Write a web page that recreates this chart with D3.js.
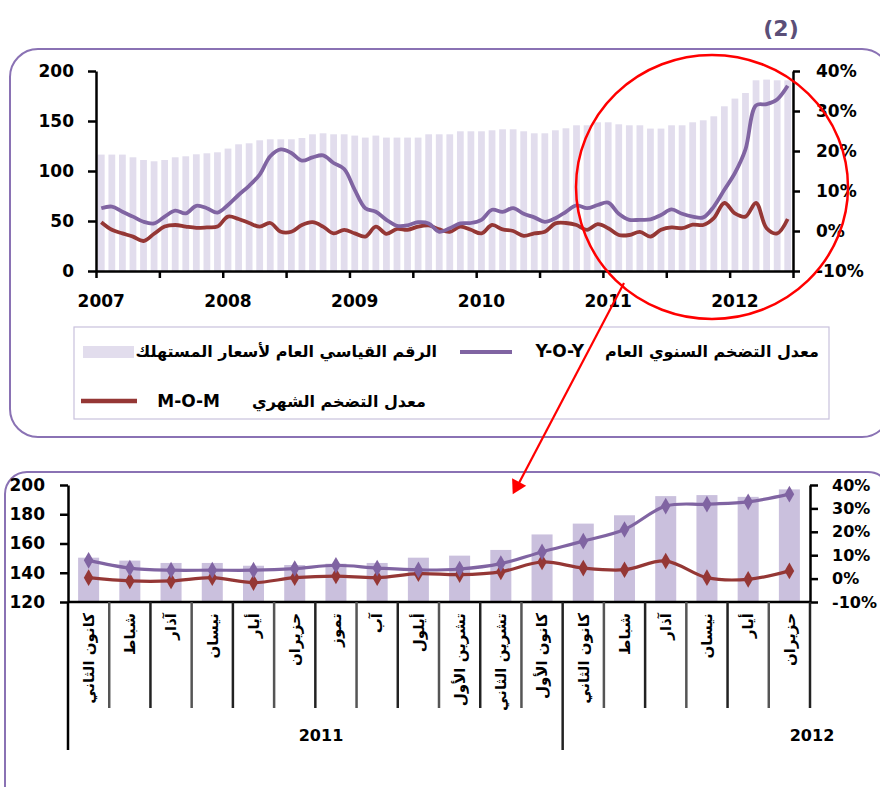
<!DOCTYPE html>
<html>
<head>
<meta charset="utf-8">
<script src="https://cdn.jsdelivr.net/npm/d3@7"></script>
<style>
  html, body { margin: 0; padding: 0; background: #fff; }
  svg { display: block; }
</style>
</head>
<body>
<svg id="fig" width="880" height="787"></svg>
<script>
'use strict';

// ---- data: top chart, monthly Jan 2007 .. Jun 2012 ----
const topYears = ['2007', '2008', '2009', '2010', '2011', '2012'];
const topCpi = [
    116.4, 116.4, 116.4, 113.7, 111.0, 109.7, 111.0, 113.7, 114.7, 116.7, 117.7, 118.7,
    122.4, 126.7, 127.7, 130.7, 131.7, 131.7, 131.7, 133.0, 136.7, 137.7, 136.7, 136.7,
    135.4, 133.4, 135.4, 133.4, 133.4, 133.4, 133.4, 136.7, 136.7, 136.7, 139.7, 139.7,
    139.7, 140.7, 141.7, 141.7, 139.7, 137.7, 137.7, 140.7, 142.7, 145.7, 145.7, 148.7,
    148.7, 146.7, 145.7, 145.7, 142.4, 142.4, 145.7, 145.7, 148.7, 150.7, 154.7, 164.7,
    172.4, 178.0, 190.7, 191.4, 190.7, 190.7
];
const topYoy = [
    5.7, 6.1, 4.8, 3.6, 2.3, 1.9, 3.6, 5.1, 4.4, 6.3, 5.7, 4.6,
    6.5, 9.0, 11.3, 14.1, 18.7, 20.4, 19.5, 17.6, 18.4, 18.9, 17.0, 15.5,
    10.3, 5.7, 4.8, 2.8, 1.3, 1.4, 2.2, 1.9, -0.2, 0.7, 1.9, 2.0,
    2.8, 5.3, 4.8, 5.7, 4.3, 3.4, 2.3, 3.2, 4.8, 6.4, 5.7, 6.5,
    7.1, 4.3, 2.8, 2.8, 2.9, 4.0, 5.4, 4.3, 3.6, 3.4, 6.1, 10.3,
    14.5, 20.4, 31.4, 31.7, 32.9, 36.3
];
const topMom = [
    2.2, 0.3, -0.6, -1.4, -2.5, -0.7, 1.1, 1.5, 1.1, 0.8, 0.9, 1.1,
    3.6, 3.0, 2.0, 1.1, 2.0, -0.2, -0.2, 1.5, 2.2, 1.1, -0.6, 0.3,
    -0.6, -1.4, 1.1, -0.7, 0.5, 0.3, 1.1, 1.4, 0.4, -0.2, 1.1, 0.3,
    -0.6, 1.5, 0.4, 0.0, -1.2, -0.6, -0.2, 1.9, 2.0, 1.5, 0.3, 1.7,
    0.7, -1.0, -1.0, -0.2, -1.4, 0.3, 0.9, 0.7, 1.6, 1.5, 3.2, 7.0,
    4.4, 3.6, 7.0, 0.7, -0.6, 3.0
];

// ---- data: bottom chart, Jan 2011 .. Jun 2012 ----
const botMonths = [
    'كانون الثاني', 'شباط', 'آذار', 'نيسان', 'أيار', 'حزيران',
    'تموز', 'آب', 'أيلول', 'تشرين الأول', 'تشرين الثاني', 'كانون الأول',
    'كانون الثاني', 'شباط', 'آذار', 'نيسان', 'أيار', 'حزيران'
];
const botYears = ['2011', '2012'];
const botCpi = [150.3, 148.3, 146.7, 146.7, 144.8, 145.3, 146.2, 146.7, 150.3,
    151.7, 155.6, 166.2, 173.6, 179.3, 192.4, 193.1, 191.9, 197.0];
const botYoy = [7.8, 4.5, 3.6, 3.6, 3.6, 4.3, 5.7, 4.5, 3.7,
    4.1, 6.4, 11.4, 16.0, 21.0, 31.0, 31.8, 32.8, 36.1];
const botMom = [0.4, -1.0, -1.0, 0.4, -1.7, 0.4, 1.1, 0.4, 2.1,
    1.7, 2.9, 7.1, 4.5, 3.8, 7.5, 0.4, -0.3, 3.3];

const leftTicksTop = [0, 50, 100, 150, 200];
const leftTicksBot = [120, 140, 160, 180, 200];
const pctTicks = [-10, 0, 10, 20, 30, 40];

const legCpi = 'الرقم القياسي العام لأسعار المستهلك';
const legYoy = 'معدل التضخم السنوي العام';
const legMom = 'معدل التضخم الشهري';

// ---- style ----
const FONT = '"DejaVu Sans", Verdana, sans-serif';
const C_BAR_TOP = '#e2dded';
const C_BAR_BOT = '#cac0dd';
const C_YOY = '#8064a2';
const C_MOM = '#953735';
const C_FRAME = '#8a72b4';

const svg = d3.select('#fig');

function styleAxis(g, size) {
    g.select('.domain').attr('stroke', '#000').attr('stroke-width', 2.5);
    g.selectAll('.tick line').attr('stroke', '#000').attr('stroke-width', 2.5);
    g.selectAll('.tick text')
        .attr('fill', '#000')
        .attr('font-family', FONT)
        .attr('font-weight', 'bold')
        .attr('font-size', size);
}

// panel frames
svg.append('rect')
    .attr('x', 10).attr('y', 49).attr('width', 880).attr('height', 388).attr('rx', 28)
    .attr('fill', 'none').attr('stroke', C_FRAME).attr('stroke-width', 2);
svg.append('rect')
    .attr('x', 5).attr('y', 472).attr('width', 885).attr('height', 340).attr('rx', 22)
    .attr('fill', 'none').attr('stroke', C_FRAME).attr('stroke-width', 2);

svg.append('text')
    .attr('x', 781).attr('y', 36).attr('text-anchor', 'middle')
    .attr('font-family', FONT).attr('font-weight', 'bold').attr('font-size', 22)
    .attr('fill', '#5b4f78')
    .text('(2)');

// =================== top chart ===================
function drawTop() {
    const x0 = 96, x1 = 793, yTop = 71, yBase = 271;
    const idx = d3.range(topCpi.length);

    const x = d3.scaleBand().domain(idx).range([x0, x1]).paddingInner(0.36).paddingOuter(0.18);
    const xi = d3.scaleLinear().domain([0, topCpi.length]).range([x0, x1]);
    const yL = d3.scaleLinear().domain([0, 200]).range([yBase, yTop]);
    const yR = d3.scaleLinear().domain([-10, 40]).range([yBase, yTop]);

    const g = svg.append('g');

    g.selectAll('.bar-top')
        .data(topCpi)
        .enter()
        .append('rect')
        .attr('class', 'bar-top')
        .attr('x', (d, i) => x(i))
        .attr('y', d => yL(d))
        .attr('width', x.bandwidth())
        .attr('height', d => yBase - yL(d))
        .attr('fill', C_BAR_TOP);

    const cx = i => x(i) + x.bandwidth() / 2;
    const line = d3.line()
        .x((d, i) => cx(i))
        .y(d => yR(d))
        .curve(d3.curveCatmullRom.alpha(0.5));

    g.append('path').datum(topMom)
        .attr('d', line).attr('fill', 'none')
        .attr('stroke', C_MOM).attr('stroke-width', 3.8).attr('stroke-linejoin', 'round');
    g.append('path').datum(topYoy)
        .attr('d', line).attr('fill', 'none')
        .attr('stroke', C_YOY).attr('stroke-width', 3.8).attr('stroke-linejoin', 'round');

    // axes
    const gl = g.append('g').attr('transform', 'translate(' + x0 + ',0)')
        .call(d3.axisLeft(yL).tickValues(leftTicksTop).tickSize(8).tickSizeOuter(0).tickPadding(14));
    styleAxis(gl, 17);

    const gr = g.append('g').attr('transform', 'translate(' + x1 + ',0)')
        .call(d3.axisRight(yR).tickValues(pctTicks).tickSize(7).tickSizeOuter(0).tickPadding(16)
            .tickFormat(d => d + '%'));
    styleAxis(gr, 17);

    const gb = g.append('g').attr('transform', 'translate(0,' + yBase + ')')
        .call(d3.axisBottom(xi).tickValues(d3.range(0, topCpi.length + 1, 6)).tickSize(7)
            .tickSizeOuter(0).tickFormat(''));
    styleAxis(gb, 17);

    // year labels under each January
    g.selectAll('.yr-top')
        .data(topYears)
        .enter()
        .append('text')
        .attr('class', 'yr-top')
        .attr('x', (d, i) => cx(i * 12))
        .attr('y', 307)
        .attr('text-anchor', 'middle')
        .attr('font-family', FONT).attr('font-weight', 'bold').attr('font-size', 17)
        .text(d => d);

    // legend
    const lg = g.append('g');
    lg.append('rect')
        .attr('x', 74).attr('y', 327).attr('width', 755).attr('height', 92)
        .attr('fill', 'none').attr('stroke', '#c9c1dd').attr('stroke-width', 1.2);
    lg.append('rect')
        .attr('x', 83).attr('y', 346).attr('width', 51).attr('height', 12)
        .attr('fill', C_BAR_TOP);
    lg.append('line')
        .attr('x1', 460).attr('x2', 512).attr('y1', 352).attr('y2', 352)
        .attr('stroke', C_YOY).attr('stroke-width', 4);
    lg.append('line')
        .attr('x1', 81).attr('x2', 137).attr('y1', 401).attr('y2', 401)
        .attr('stroke', C_MOM).attr('stroke-width', 4.5);

    const ltxt = [
        [legCpi, 437, 357, 16],
        ['Y-O-Y', 584, 357, 17],
        [legYoy, 819, 357, 16],
        ['M-O-M', 220, 407, 17],
        [legMom, 426, 407, 16]
    ];
    ltxt.forEach(t => {
        lg.append('text')
            .attr('x', t[1]).attr('y', t[2])
            .attr('text-anchor', 'end')
            .attr('font-family', FONT).attr('font-weight', 'bold').attr('font-size', t[3])
            .text(t[0]);
    });
}

// =================== bottom chart ===================
function drawBottom() {
    const x0 = 68, x1 = 810, yTop = 485, yBase = 602;
    const idx = d3.range(botMonths.length);

    const x = d3.scaleBand().domain(idx).range([x0, x1]).paddingInner(0.49).paddingOuter(0.245);
    const xi = d3.scaleLinear().domain([0, botMonths.length]).range([x0, x1]);
    const yL = d3.scaleLinear().domain([120, 200]).range([yBase, yTop]);
    const yR = d3.scaleLinear().domain([-10, 40]).range([yBase, yTop]);
    const cx = i => x(i) + x.bandwidth() / 2;

    const g = svg.append('g');

    g.selectAll('.bar-bot')
        .data(botCpi)
        .enter()
        .append('rect')
        .attr('class', 'bar-bot')
        .attr('x', (d, i) => x(i))
        .attr('y', d => yL(d))
        .attr('width', x.bandwidth())
        .attr('height', d => yBase - yL(d))
        .attr('fill', C_BAR_BOT);

    const line = d3.line()
        .x((d, i) => cx(i))
        .y(d => yR(d))
        .curve(d3.curveCatmullRom.alpha(0.5));
    const marker = d3.symbol().type(d3.symbolDiamond).size(80);

    [[botMom, C_MOM], [botYoy, C_YOY]].forEach(s => {
        g.append('path').datum(s[0])
            .attr('d', line).attr('fill', 'none')
            .attr('stroke', s[1]).attr('stroke-width', 3.2).attr('stroke-linejoin', 'round');
        g.selectAll(null)
            .data(s[0])
            .enter()
            .append('path')
            .attr('d', marker)
            .attr('transform', (d, i) => 'translate(' + cx(i) + ',' + yR(d) + ')')
            .attr('fill', s[1]);
    });

    // axes
    const gl = g.append('g').attr('transform', 'translate(' + x0 + ',0)')
        .call(d3.axisLeft(yL).tickValues(leftTicksBot).tickSize(8).tickSizeOuter(0).tickPadding(15));
    styleAxis(gl, 17);

    const gr = g.append('g').attr('transform', 'translate(' + x1 + ',0)')
        .call(d3.axisRight(yR).tickValues(pctTicks).tickSize(8).tickSizeOuter(0).tickPadding(14)
            .tickFormat(d => d + '%'));
    styleAxis(gr, 16);

    // category axis: baseline, separators and the year split
    g.append('line')
        .attr('x1', x0).attr('x2', x1).attr('y1', yBase).attr('y2', yBase)
        .attr('stroke', '#000').attr('stroke-width', 2.5);
    g.append('line')
        .attr('x1', x0).attr('x2', x0).attr('y1', yBase).attr('y2', 750)
        .attr('stroke', '#000').attr('stroke-width', 2.5);
    g.selectAll('.sep')
        .data(d3.range(1, botMonths.length + 1))
        .enter()
        .append('line')
        .attr('class', 'sep')
        .attr('x1', d => xi(d)).attr('x2', d => xi(d))
        .attr('y1', yBase).attr('y2', d => d === 12 ? 750 : 708)
        .attr('stroke', (d, i) => i % 2 ? '#222' : '#555')
        .attr('stroke-width', 2.5);

    g.selectAll('.mon')
        .data(botMonths)
        .enter()
        .append('text')
        .attr('class', 'mon')
        .attr('transform', (d, i) => 'translate(' + cx(i) + ',613) rotate(-90)')
        .attr('dy', '0.35em')
        .attr('text-anchor', 'end')
        .attr('font-family', FONT).attr('font-weight', 'bold').attr('font-size', 15)
        .text(d => d);

    const yrX = [321, 812];
    g.selectAll('.yr-bot')
        .data(botYears)
        .enter()
        .append('text')
        .attr('class', 'yr-bot')
        .attr('x', (d, i) => yrX[i])
        .attr('y', 741)
        .attr('text-anchor', 'middle')
        .attr('font-family', FONT).attr('font-weight', 'bold').attr('font-size', 16)
        .text(d => d);
}

drawTop();
drawBottom();

// red annotation: circle and arrow pointing to the zoomed chart
const ann = svg.append('g');
ann.append('ellipse')
    .attr('cx', 712).attr('cy', 187).attr('rx', 136).attr('ry', 132)
    .attr('fill', 'none').attr('stroke', '#ff0000').attr('stroke-width', 2.5);
ann.append('line')
    .attr('x1', 624).attr('y1', 283).attr('x2', 519).attr('y2', 483)
    .attr('stroke', '#ff0000').attr('stroke-width', 2.2);
ann.append('path')
    .attr('d', d3.symbol().type(d3.symbolTriangle).size(110))
    .attr('transform', 'translate(517,486) rotate(' + (180 + 27.7) + ')')
    .attr('fill', '#ff0000');
</script>
</body>
</html>
